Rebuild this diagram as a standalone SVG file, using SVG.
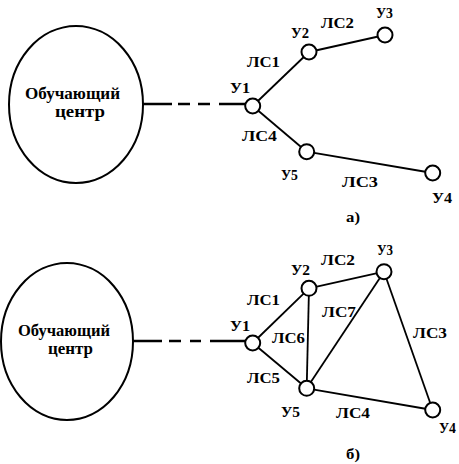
<svg xmlns="http://www.w3.org/2000/svg" width="459" height="464" viewBox="0 0 459 464">
<style>
  .bg { fill: #ffffff; }
  .ell { fill: #ffffff; stroke: #000; stroke-width: 2; }
  .nd { fill: #ffffff; stroke: #000; stroke-width: 2; }
  .ln { stroke: #000; stroke-width: 1.8; fill: none; }
  .dl { stroke: #000; stroke-width: 2.4; fill: none; }
  .lb { font-weight: bold; font-size: 14px; fill: #000; }
  .ct { font-weight: bold; font-size: 16px; fill: #000; }
</style>
<rect class="bg" x="0" y="0" width="459" height="464"/>

<g id="connectors">
  <line class="dl" x1="143" y1="104" x2="246" y2="104" stroke-dasharray="29 6 12 8 12 9 40"/>
  <line class="ln" x1="252.7" y1="106" x2="309" y2="52"/>
  <line class="ln" x1="309" y1="52" x2="385" y2="35"/>
  <line class="ln" x1="252.7" y1="106" x2="306.7" y2="151.7"/>
  <line class="ln" x1="306.7" y1="151.7" x2="432.7" y2="173"/>
  <line class="dl" x1="133" y1="341" x2="246" y2="341" stroke-dasharray="29 7 12 9 11 9 45"/>
  <line class="ln" x1="252.7" y1="343" x2="309" y2="288.3"/>
  <line class="ln" x1="309" y1="288.3" x2="384" y2="271.7"/>
  <line class="ln" x1="252.7" y1="343" x2="306.7" y2="388.3"/>
  <line class="ln" x1="309" y1="288.3" x2="306.7" y2="388.3"/>
  <line class="ln" x1="306.7" y1="388.3" x2="384" y2="271.7"/>
  <line class="ln" x1="384" y1="271.7" x2="432.7" y2="410"/>
  <line class="ln" x1="306.7" y1="388.3" x2="432.7" y2="410"/>
</g>

<g font-family="Liberation Serif, Times New Roman, serif">
<g id="center-a">
  <ellipse class="ell" cx="76" cy="104.5" rx="67" ry="78.5"/>
  <text class="ct" x="25" y="98.5" textLength="95" lengthAdjust="spacingAndGlyphs">Обучающий</text>
  <text class="ct" x="55" y="117" textLength="50" lengthAdjust="spacingAndGlyphs">центр</text>
</g>
<g id="a-u1"><circle class="nd" cx="252.7" cy="106" r="7.5"/><text class="lb" x="230" y="93" textLength="20" lengthAdjust="spacingAndGlyphs">У1</text></g>
<g id="a-u2"><circle class="nd" cx="309" cy="52" r="7.5"/><text class="lb" x="291" y="38" textLength="18" lengthAdjust="spacingAndGlyphs">У2</text></g>
<g id="a-u3"><circle class="nd" cx="385" cy="35" r="7.5"/><text class="lb" x="376" y="18" textLength="17" lengthAdjust="spacingAndGlyphs">У3</text></g>
<g id="a-u4"><circle class="nd" cx="432.7" cy="173" r="7.5"/><text class="lb" x="432" y="203" textLength="20" lengthAdjust="spacingAndGlyphs">У4</text></g>
<g id="a-u5"><circle class="nd" cx="306.7" cy="151.7" r="7.5"/><text class="lb" x="281" y="180" textLength="17" lengthAdjust="spacingAndGlyphs">У5</text></g>
<g id="a-labels">
  <text class="lb" x="321" y="28" textLength="33" lengthAdjust="spacingAndGlyphs">ЛС2</text>
  <text class="lb" x="247" y="67" textLength="33" lengthAdjust="spacingAndGlyphs">ЛС1</text>
  <text class="lb" x="242" y="141" textLength="35" lengthAdjust="spacingAndGlyphs">ЛС4</text>
  <text class="lb" x="342" y="187" textLength="36" lengthAdjust="spacingAndGlyphs">ЛС3</text>
  <text class="lb" x="346" y="222" textLength="14" lengthAdjust="spacingAndGlyphs">а)</text>
</g>

<g id="center-b">
  <ellipse class="ell" cx="67" cy="341.5" rx="66" ry="78.5"/>
  <text class="ct" x="18" y="335.5" textLength="92" lengthAdjust="spacingAndGlyphs">Обучающий</text>
  <text class="ct" x="48" y="354" textLength="45" lengthAdjust="spacingAndGlyphs">центр</text>
</g>
<g id="b-u1"><circle class="nd" cx="252.7" cy="343" r="7.5"/><text class="lb" x="230" y="331" textLength="20" lengthAdjust="spacingAndGlyphs">У1</text></g>
<g id="b-u2"><circle class="nd" cx="309" cy="288.3" r="7.5"/><text class="lb" x="291" y="275" textLength="19" lengthAdjust="spacingAndGlyphs">У2</text></g>
<g id="b-u3"><circle class="nd" cx="384" cy="271.7" r="7.5"/><text class="lb" x="377" y="255" textLength="16" lengthAdjust="spacingAndGlyphs">У3</text></g>
<g id="b-u4"><circle class="nd" cx="432.7" cy="410" r="7.5"/><text class="lb" x="439" y="433" textLength="17" lengthAdjust="spacingAndGlyphs">У4</text></g>
<g id="b-u5"><circle class="nd" cx="306.7" cy="388.3" r="7.5"/><text class="lb" x="281" y="417" textLength="19" lengthAdjust="spacingAndGlyphs">У5</text></g>
<g id="b-labels">
  <text class="lb" x="321" y="265" textLength="34" lengthAdjust="spacingAndGlyphs">ЛС2</text>
  <text class="lb" x="247" y="305" textLength="33" lengthAdjust="spacingAndGlyphs">ЛС1</text>
  <text class="lb" x="322" y="317" textLength="34" lengthAdjust="spacingAndGlyphs">ЛС7</text>
  <text class="lb" x="272" y="343" textLength="33" lengthAdjust="spacingAndGlyphs">ЛС6</text>
  <text class="lb" x="413" y="338" textLength="34" lengthAdjust="spacingAndGlyphs">ЛС3</text>
  <text class="lb" x="247" y="383" textLength="33" lengthAdjust="spacingAndGlyphs">ЛС5</text>
  <text class="lb" x="336" y="418" textLength="34" lengthAdjust="spacingAndGlyphs">ЛС4</text>
  <text class="lb" x="346" y="459" textLength="14" lengthAdjust="spacingAndGlyphs">б)</text>
</g>
</g>
</svg>
